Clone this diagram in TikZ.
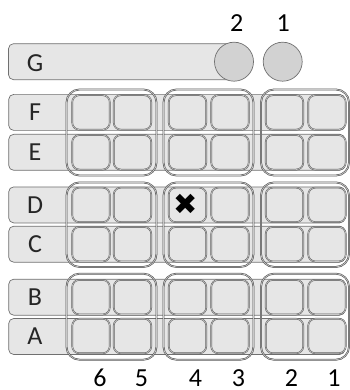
\documentclass[tikz,border=0pt]{standalone}
\usepackage{fontspec}
\setmainfont{Carlito}
\newfontfamily\symfont{DejaVu Sans}
\definecolor{barfill}{HTML}{E6E6E6}
\definecolor{linegray}{HTML}{707070}
\definecolor{circfill}{HTML}{D2D2D2}
\definecolor{innergray}{HTML}{C8C8C8}
\begin{document}
\begin{tikzpicture}[x=1pt,y=-1pt,
  bar/.style={draw=linegray, fill=barfill, rounded corners=5pt, line width=0.7pt,
    inner sep=0pt, minimum height=36pt},
  cellbox/.style={draw=linegray!80!black, double=innergray, double distance=0.6pt,
    line width=0.5pt, fill=barfill, rounded corners=7pt, inner sep=0pt,
    minimum width=37.5pt, minimum height=34.5pt},
  grp/.style={draw=linegray!70!black, double=innergray, double distance=0.7pt,
    line width=0.55pt, rounded corners=13pt, inner sep=0pt},
  circ/.style={circle, draw=linegray, fill=circfill, line width=0.7pt,
    inner sep=0pt, minimum size=39pt},
  lab/.style={font=\fontsize{26}{26}\selectfont, text=black!85, inner sep=0pt},
  num/.style={font=\fontsize{26}{26}\selectfont, text=black, inner sep=0pt}
]
\useasboundingbox (0,0) rectangle (349,390);
% row bars
\node[bar, minimum width=231pt] (barG) at (124,61.7) {};
\foreach \r/\y in {F/112.4, E/152.3, D/204.9, C/244.2, B/297.2, A/336.5}{
  \node[bar, minimum width=336pt] (bar\r) at (176.7,\y) {};
}
% cells
\foreach \r/\y in {F/112.4, E/152.3, D/204.9, C/244.2, B/297.2, A/336.0}{
  \foreach \c/\x in {6/91, 5/132.5, 4/187.5, 3/230, 2/284.5, 1/327}{
    \node[cellbox] (cell\r\c) at (\x,\y) {};
  }
}
% group frames
\foreach \g/\y/\h in {FE/132.5/86, DC/224.7/84.5, BA/316.7/86}{
  \node[grp, minimum width=90pt, minimum height=\h pt] (grp\g65) at (111.5,\y) {};
  \node[grp, minimum width=90pt, minimum height=\h pt] (grp\g43) at (208.5,\y) {};
  \node[grp, minimum width=88pt, minimum height=\h pt] (grp\g21) at (305,\y) {};
}
% circles
\node[circ] (c2) at (234,61.7) {};
\node[circ] (c1) at (282.7,61.7) {};
% row letters
\node[lab] (lG) at (35,63) {G};
\foreach \r/\y in {F/112.4, E/152.3, D/204.9, C/244.2, B/297.2, A/336.5}{
  \node[lab] (l\r) at (35,\y) {\r};
}
% numbers
\node[num] (t2) at (236.7,23.5) {2};
\node[num] (t1) at (283.3,23.5) {1};
\foreach \n/\x in {6/100, 5/141.5, 4/195.5, 3/238.5, 2/291.5, 1/334}{
  \node[num] (b\n) at (\x,378) {\n};
}
% cross
\node[font=\symfont\fontsize{29}{29}\selectfont, inner sep=0pt, text=black] (cross) at (185.5,204) {✖};
\end{tikzpicture}
\end{document}
